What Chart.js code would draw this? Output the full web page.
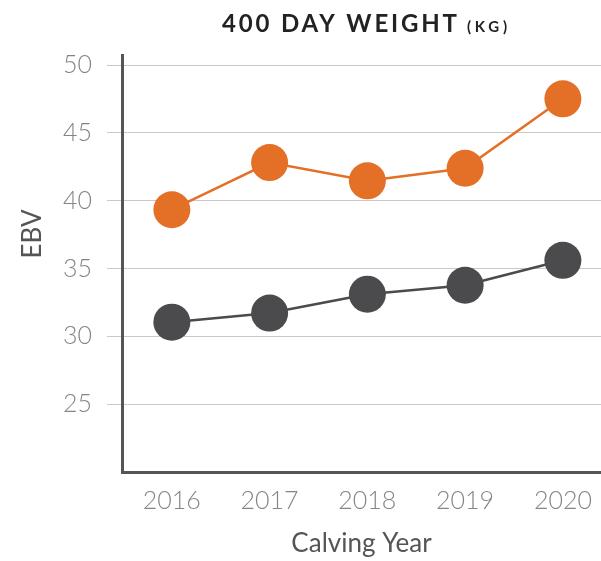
<!DOCTYPE html>
<html>
<head>
<meta charset="utf-8">
<script src="https://cdn.jsdelivr.net/npm/chart.js@4"></script>
<style>
  html, body { margin: 0; padding: 0; background: #fff; overflow: hidden; }
  #wrap { width: 601px; height: 561px; }
</style>
</head>
<body>
<div id="wrap"><canvas id="weightChart" width="601" height="561"></canvas></div>
<script>
// Data
const years = [2016, 2017, 2018, 2019, 2020];
const orangeSeries = [39.34, 42.82, 41.47, 42.4, 47.52];
const greySeries = [31.05, 31.72, 33.11, 33.77, 35.61];
const yTicks = [25, 30, 35, 40, 45, 50];

const titleMain = '400 DAY WEIGHT';
const titleUnit = '(KG)';
const yTitle = 'EBV';
const xTitle = 'Calving Year';

// spread text so it spans a given width
function spacedText(ctx, text, x, y, width) {
  ctx.letterSpacing = '0px';
  const w = ctx.measureText(text).width;
  const gap = (width - w) / (text.length - 1);
  ctx.letterSpacing = gap + 'px';
  ctx.fillText(text, x, y);
}

// Title with a smaller unit part, plus the y-axis title (sits above centre in the original)
const titlePlugin = {
  id: 'splitTitle',
  afterDraw(chart) {
    const ctx = chart.ctx;
    ctx.save();
    ctx.fillStyle = '#222';
    ctx.textBaseline = 'alphabetic';
    ctx.textAlign = 'left';
    ctx.font = 'bold 24px Lato';
    spacedText(ctx, titleMain, 222, 32, 235);
    ctx.font = 'bold 15px Lato';
    spacedText(ctx, titleUnit, 467, 32, 40);
    ctx.restore();

    ctx.save();
    ctx.letterSpacing = '0px';
    ctx.fillStyle = '#555';
    ctx.font = '26px Lato';
    ctx.textAlign = 'center';
    ctx.textBaseline = 'middle';
    ctx.translate(33, 234);
    ctx.rotate(-Math.PI / 2);
    ctx.fillText(yTitle, 0, 0);
    ctx.restore();
  }
};

const ctx = document.getElementById('weightChart').getContext('2d');
new Chart(ctx, {
  type: 'line',
  data: {
    datasets: [
      {
        label: 'Orange',
        data: years.map((y, i) => ({ x: y, y: orangeSeries[i] })),
        borderColor: '#e46f26',
        backgroundColor: '#e46f26',
        borderWidth: 2.5,
        pointRadius: 18.5,
        pointBorderWidth: 0,
        pointHoverRadius: 18.5,
        clip: false
      },
      {
        label: 'Grey',
        data: years.map((y, i) => ({ x: y, y: greySeries[i] })),
        borderColor: '#4b4b4d',
        backgroundColor: '#4b4b4d',
        borderWidth: 2.5,
        pointRadius: 18.5,
        pointBorderWidth: 0,
        pointHoverRadius: 18.5,
        clip: false
      }
    ]
  },
  options: {
    responsive: false,
    animation: false,
    layout: { autoPadding: false, padding: { top: 55, left: 0, right: 0, bottom: 0 } },
    plugins: {
      legend: { display: false },
      title: { display: false },
      tooltip: { enabled: false }
    },
    scales: {
      x: {
        type: 'linear',
        min: 2015.49,
        max: 2020.39,
        afterFit: s => { s.height = 89; s.paddingLeft = 0; s.paddingRight = 0; },
        afterBuildTicks: s => { s.ticks = years.map(v => ({ value: v })); },
        grid: { display: false, drawTicks: false },
        border: { display: true, color: '#555', width: 3 },
        ticks: {
          padding: 14,
          color: '#858585',
          font: { family: 'Lato', size: 25, weight: '300' },
          callback: v => String(v)
        },
        title: {
          display: true,
          text: xTitle,
          color: '#555',
          font: { family: 'Lato', size: 26 },
          padding: { top: 6, bottom: 2 }
        }
      },
      y: {
        min: 20,
        max: 50.75,
        afterFit: s => { s.width = 122; s.paddingTop = 0; s.paddingBottom = 0; },
        afterBuildTicks: s => { s.ticks = yTicks.map(v => ({ value: v })); },
        grid: { color: '#c8c8c8', lineWidth: 1, tickLength: 15 },
        border: { display: true, color: '#555', width: 3 },
        ticks: {
          padding: 15,
          color: '#858585',
          font: { family: 'Lato', size: 25, weight: '300' }
        }
      }
    }
  },
  plugins: [titlePlugin]
});
</script>
</body>
</html>
